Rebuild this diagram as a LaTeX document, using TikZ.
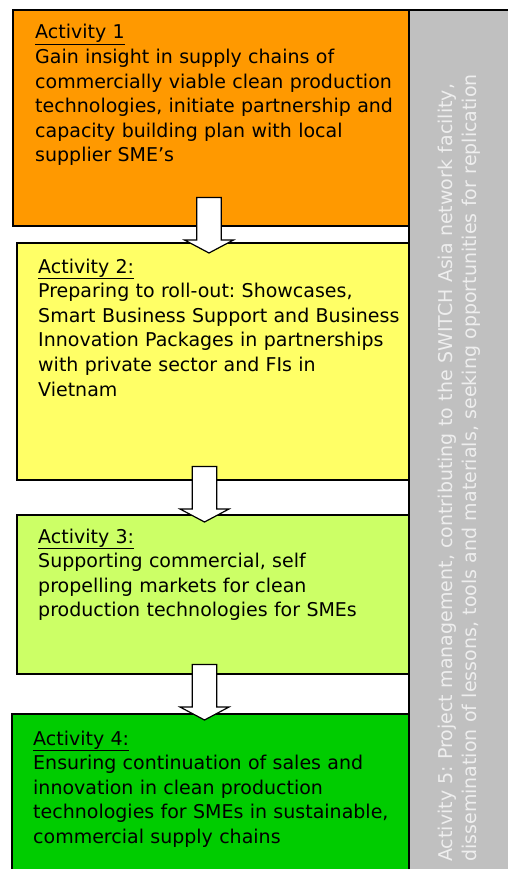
\documentclass[tikz,border=0pt]{standalone}
\usepackage{fontspec}
\setmainfont{DejaVu Sans}
\frenchspacing
\usetikzlibrary{calc}
\definecolor{cOrange}{HTML}{FF9900}
\definecolor{cYellow}{HTML}{FFFF66}
\definecolor{cLime}{HTML}{CCFF66}
\definecolor{cGreen}{HTML}{00CC00}
\definecolor{cGray}{HTML}{C0C0C0}
\definecolor{cBarText}{HTML}{EEEEEE}
\begin{document}
\begin{tikzpicture}[x=1pt,y=-1pt,
  box/.style={draw=black,line width=1.5pt},
  txt/.style={anchor=base west,inner sep=0pt,text width=380pt,align=left,font=\fontsize{19}{24.6}\selectfont},
  bartxt/.style={rotate=90,anchor=base west,inner sep=0pt,text width=840pt,align=left,font=\fontsize{19}{24.6}\selectfont,text=cBarText},
  pics/downarrow/.style={code={\draw[fill=white,draw=black,line width=1.2pt,line join=miter] (0,0) -- (-24.5,-13) -- (-12.2,-13) -- (-12.2,-55.5) -- (12.2,-55.5) -- (12.2,-13) -- (24.5,-13) -- cycle;}}
]
\useasboundingbox (0,0) rectangle (508,869);
% activity 5 bar
\path[box,fill=cGray] (409,10) rectangle (530,890);
% activity boxes
\path[box,fill=cOrange] (13,10) rectangle (409,226);
\path[box,fill=cYellow] (17,243) rectangle (409,480);
\path[box,fill=cLime] (17,515) rectangle (409,674);
\path[box,fill=cGreen] (12,714) rectangle (409,890);
% block arrows
\pic (arr1) at (209,253) {downarrow};
\pic (arr2) at (204.5,522) {downarrow};
\pic (arr3) at (204.5,720) {downarrow};
% texts
\node[txt] (t1) at (35,39) {\underline{Activity 1}\\Gain insight in supply chains of\\commercially viable clean production\\technologies, initiate partnership and\\capacity building plan with local\\supplier SME’s};
\node[txt] (t2) at (38,273) {\underline{Activity 2:}\\Preparing to roll-out: Showcases,\\Smart Business Support and Business\\Innovation Packages in partnerships\\with private sector and FIs in\\Vietnam};
\node[txt] (t3) at (38,543) {\underline{Activity 3:}\\Supporting commercial, self\\propelling markets for clean\\production technologies for SMEs};
\node[txt] (t4) at (33,745) {\underline{Activity 4:}\\Ensuring continuation of sales and\\innovation in clean production\\technologies for SMEs in sustainable,\\commercial supply chains};
\node[bartxt] (t5) at (452,862) {Activity 5: Project management, contributing to the SWITCH Asia network facility,\\dissemination of lessons, tools and materials, seeking opportunities for replication};
\end{tikzpicture}
\end{document}
